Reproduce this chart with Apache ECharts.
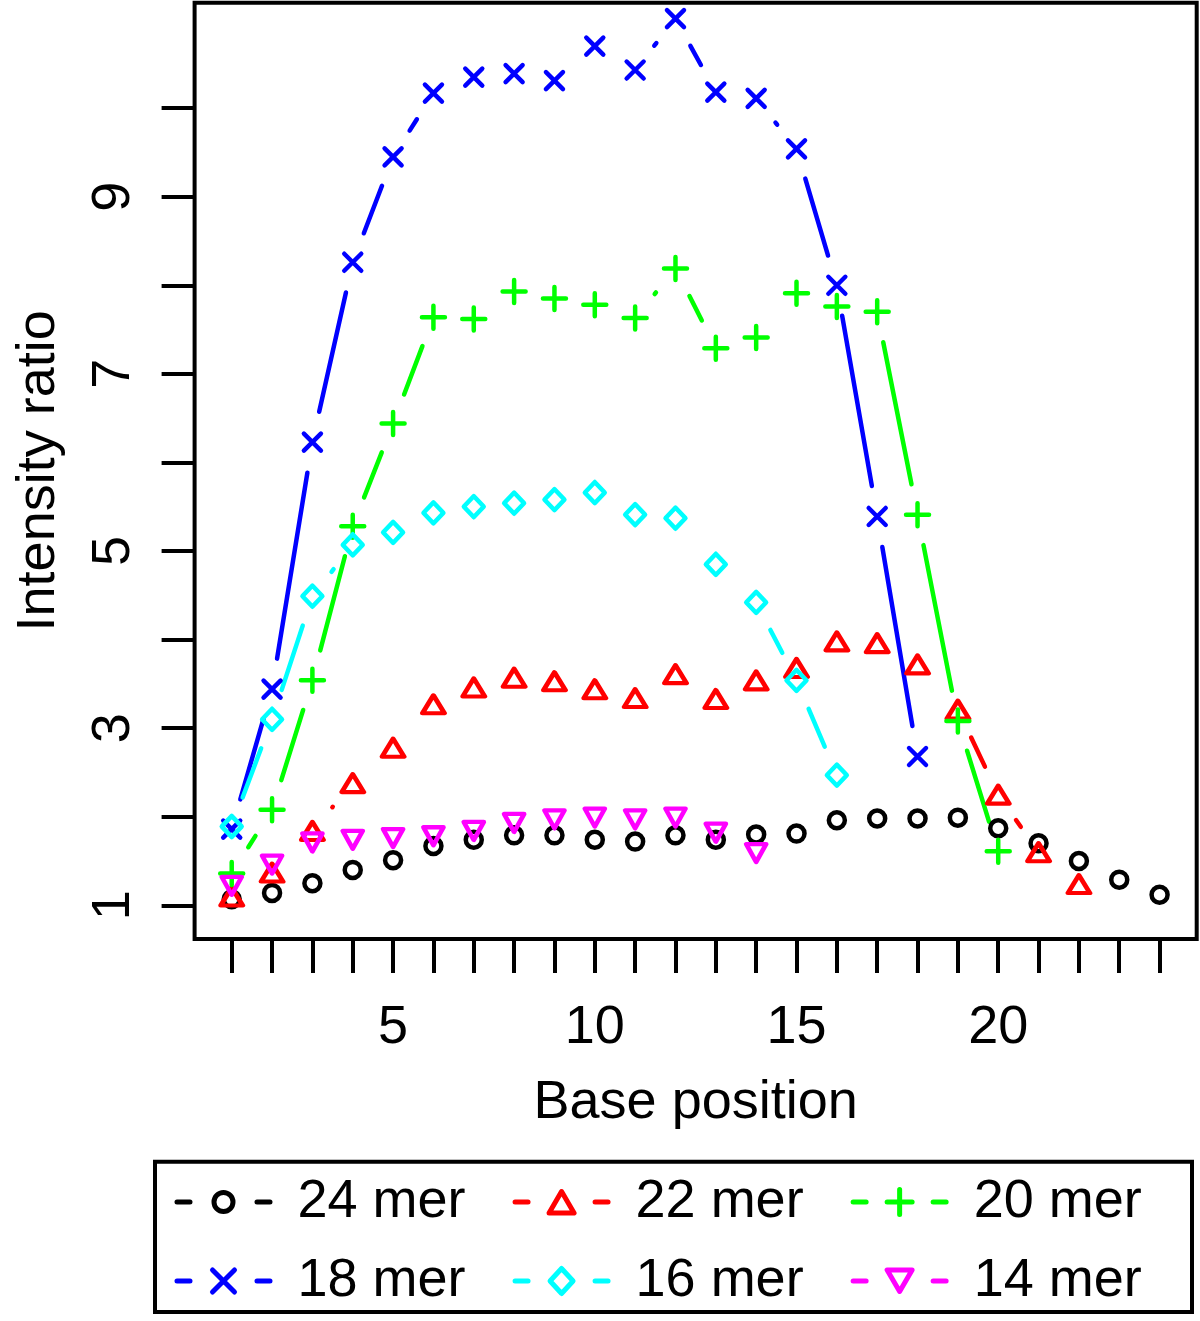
<!DOCTYPE html>
<html>
<head>
<meta charset="utf-8">
<script src="https://cdn.jsdelivr.net/npm/echarts@6/dist/echarts.min.js"></script>
<style>
html,body{margin:0;padding:0;background:#ffffff;}
#chart{width:1200px;height:1321px;}
</style>
</head>
<body>
<div id="chart"></div>
<script>
// ---- data ----
const mer24 = [1.07,1.14,1.25,1.40,1.51,1.67,1.74,1.79,1.79,1.74,1.72,1.79,1.74,1.80,1.81,1.96,1.98,1.98,1.99,1.87,1.70,1.50,1.29,1.12];
const mer22 = [1.10,1.37,1.84,2.38,2.78,3.27,3.46,3.57,3.53,3.44,3.34,3.61,3.33,3.54,3.68,3.98,3.96,3.72,3.21,2.25,1.60,1.24];
const mer20 = [1.36,2.08,3.54,5.28,6.44,7.64,7.62,7.93,7.85,7.78,7.63,8.19,7.29,7.41,7.91,7.76,7.70,5.41,3.08,1.61];
const mer18 = [1.86,3.44,6.23,8.26,9.45,10.17,10.35,10.39,10.31,10.70,10.43,11.01,10.18,10.11,9.54,8.00,5.39,2.68];
const mer16 = [1.89,3.10,4.49,5.07,5.21,5.43,5.50,5.54,5.58,5.66,5.41,5.37,4.85,4.42,3.54,2.47];
const mer14 = [1.22,1.46,1.71,1.74,1.76,1.78,1.84,1.93,1.97,1.99,1.97,1.99,1.82,1.59];
const seriesNames = ['24 mer','22 mer','20 mer','18 mer','16 mer','14 mer'];
const xTickValues = [1,2,3,4,5,6,7,8,9,10,11,12,13,14,15,16,17,18,19,20,21,22,23,24];
const xLabelValues = [5,10,15,20];
const yTickValues = [1,2,3,4,5,6,7,8,9,10];
const yLabelValues = [1,3,5,7,9];
const xTitle = 'Base position';
const yTitle = 'Intensity ratio';

// ---- styling ----
const FONT = 'Liberation Sans, Arial, Helvetica, sans-serif';
const colors = ['#000000','#ff0000','#00ff00','#0000ff','#00ffff','#ff00ff'];
const values = [mer24, mer22, mer20, mer18, mer16, mer14];
const symbols = [
  {s:'circle', size:16},
  {s:'triangle', size:[22,18]},
  {s:'path://M0,-1 L0,1 M-1,0 L1,0', size:23},
  {s:'path://M-1,-1 L1,1 M-1,1 L1,-1', size:17},
  {s:'diamond', size:[20,21]},
  {s:'path://M0,0 L2,0 L1,2 Z', size:[20,18]}
];
const PIN = 'M0,0 M97,30 ';
const DASH = 'M2.5,15 L15.5,15 M82.5,15 L95.5,15 ';
const legendIcons = [
  'path://' + PIN + DASH + 'M58.5,15 A9.5,9.5 0 1 1 39.5,15 A9.5,9.5 0 1 1 58.5,15',
  'path://' + PIN + DASH + 'M49,4.5 L61.5,26 L36.5,26 Z',
  'path://' + PIN + DASH + 'M49,2.5 L49,27.5 M36.5,15 L61.5,15',
  'path://' + PIN + DASH + 'M38,4 L60,26 M38,26 L60,4',
  'path://' + PIN + DASH + 'M49,2.5 L60.5,15 L49,27.5 L37.5,15 Z',
  'path://' + PIN + DASH + 'M36.5,4 L61.5,4 L49,25.5 Z'
];
const GAP = 31;
const LW = 5;

function segRender(params, api) {
  const p0 = api.coord([api.value(0), api.value(1)]);
  const p1 = api.coord([api.value(2), api.value(3)]);
  const dx = p1[0] - p0[0], dy = p1[1] - p0[1];
  const d = Math.sqrt(dx * dx + dy * dy);
  if (d <= 2 * GAP) return null;
  const ux = dx / d, uy = dy / d;
  return {
    type: 'line',
    shape: {x1: p0[0] + ux * GAP, y1: p0[1] + uy * GAP, x2: p1[0] - ux * GAP, y2: p1[1] - uy * GAP},
    style: {stroke: api.visual('color'), lineWidth: LW - 0.5, lineCap: 'round'}
  };
}

const series = [];
values.forEach(function (vals, k) {
  series.push({
    type: 'scatter',
    name: seriesNames[k],
    data: vals.map(function (v, i) { return [i + 1, v]; }),
    symbol: symbols[k].s,
    symbolSize: symbols[k].size,
    itemStyle: {color: 'rgba(0,0,0,0)', borderColor: colors[k], borderWidth: LW - 0.5, borderCap: 'round', borderJoin: 'round', opacity: 1},
    emphasis: {disabled: true},
    z: 3
  });
});
values.forEach(function (vals, k) {
  const segs = [];
  for (let i = 0; i < vals.length - 1; i++) segs.push([i + 1, vals[i], i + 2, vals[i + 1]]);
  series.push({
    type: 'custom',
    name: seriesNames[k],
    data: segs,
    encode: {x: [0, 2], y: [1, 3]},
    renderItem: segRender,
    itemStyle: {color: colors[k]},
    silent: true,
    z: 2
  });
});

function legendRow(idxs, top) {
  return {
    show: true,
    orient: 'horizontal',
    left: 172,
    top: top,
    padding: 0,
    itemGap: 44.5,
    itemWidth: 97,
    itemHeight: 30,
    selectedMode: false,
    symbolKeepAspect: true,
    itemStyle: {color: 'rgba(0,0,0,0)', borderWidth: LW, borderCap: 'round', borderJoin: 'round'},
    textStyle: {fontFamily: FONT, fontSize: 54, color: '#000', padding: [0, 0, 0, 21]},
    data: idxs.map(function (k) { return {name: seriesNames[k], icon: legendIcons[k]}; })
  };
}

const chart = echarts.init(document.getElementById('chart'), null, {renderer: 'canvas'});
chart.setOption({
  animation: false,
  backgroundColor: '#ffffff',
  textStyle: {fontFamily: FONT},
  grid: {left: 194.6, right: 3.3, top: 2.7, bottom: 382, show: true, borderColor: '#000', borderWidth: 4, backgroundColor: 'transparent', containLabel: false, outerBoundsMode: 'none'},
  xAxis: {
    type: 'value', min: 0.08, max: 24.92, position: 'bottom',
    splitLine: {show: false},
    axisLine: {show: false},
    axisTick: {show: true, length: 34, lineStyle: {color: '#000', width: 4}, customValues: xTickValues},
    axisLabel: {show: true, margin: 62, fontSize: 54, fontFamily: FONT, color: '#000', customValues: xLabelValues},
    name: xTitle, nameLocation: 'middle', nameGap: 137, nameMoveOverlap: false,
    nameTextStyle: {fontSize: 54, fontFamily: FONT, color: '#000'}
  },
  yAxis: {
    type: 'value', min: 0.62, max: 11.19, position: 'left',
    splitLine: {show: false},
    axisLine: {show: false},
    axisTick: {show: true, length: 33, lineStyle: {color: '#000', width: 4}, customValues: yTickValues},
    axisLabel: {show: true, margin: 53, rotate: 90, fontSize: 54, fontFamily: FONT, color: '#000', customValues: yLabelValues},
    name: yTitle, nameLocation: 'middle', nameGap: 128, nameRotate: 90, nameMoveOverlap: false,
    nameTextStyle: {fontSize: 54, fontFamily: FONT, color: '#000'}
  },
  legend: [
    legendRow([0, 1, 2], 1175),
    legendRow([3, 4, 5], 1254)
  ],
  graphic: [{
    type: 'rect',
    shape: {x: 155, y: 1161.7, width: 1037, height: 150.3},
    style: {fill: 'none', stroke: '#000', lineWidth: 4},
    silent: true
  }],
  series: series
});
</script>
</body>
</html>
